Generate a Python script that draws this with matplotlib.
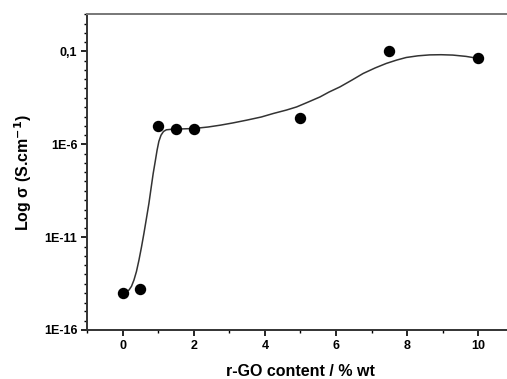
import numpy as np
import matplotlib.pyplot as plt
from matplotlib.ticker import FixedLocator, FixedFormatter, LogLocator, NullFormatter, MultipleLocator

plt.rcParams['font.family'] = ['Liberation Sans', 'DejaVu Sans']
plt.rcParams['font.weight'] = 'bold'

# measured points (r-GO wt %, log10 conductivity)
rgo = [0, 0.5, 1, 1.5, 2, 5, 7.5, 10]
log_sigma = [-14.0, -13.8, -5.03, -5.18, -5.18, -4.6, -1.0, -1.39]

# fitted curve
curve_x = [0.0, 0.1, 0.18, 0.25, 0.32, 0.39, 0.46, 0.53, 0.60, 0.67, 0.74, 0.80, 0.86, 0.92,
           0.97, 1.02, 1.08, 1.15, 1.23, 1.39, 1.7, 2.0, 2.4, 2.75, 3.1, 3.49, 3.9, 4.24,
           4.6, 4.89, 5.2, 5.55, 5.8, 6.11, 6.45, 6.76, 7.1, 7.41, 7.7, 7.97, 8.3, 8.63,
           8.95, 9.28, 9.65, 10.0]
curve_log = [-14.0, -13.95, -13.85, -13.65, -13.31, -12.85, -12.24, -11.55, -10.80, -10.0,
             -9.19, -8.38, -7.58, -6.90, -6.32, -5.85, -5.52, -5.32, -5.23, -5.20, -5.18,
             -5.16, -5.08, -4.98, -4.86, -4.71, -4.54, -4.35, -4.17, -4.0, -3.75, -3.46,
             -3.20, -2.92, -2.55, -2.20, -1.90, -1.66, -1.48, -1.34, -1.25, -1.20, -1.19,
             -1.21, -1.28, -1.39]

ytick_vals = [1e-16, 1e-11, 1e-6, 1e-1]
ytick_labels = ['1E-16', '1E-11', '1E-6', '0,1']

fig = plt.figure(figsize=(5.07, 3.79), dpi=100)
ax = fig.add_axes([87 / 507, 49 / 379, 427 / 507, 316 / 379])

ax.plot(curve_x, 10.0 ** np.array(curve_log), color='#333333', lw=1.1)
ax.plot(rgo, 10.0 ** np.array(log_sigma), 'o', color='black', ms=7.2)

ax.set_yscale('log')
ax.set_ylim(1e-16, 10)
ax.set_xlim(-1, 11)

ax.yaxis.set_major_locator(FixedLocator(ytick_vals))
ax.yaxis.set_major_formatter(FixedFormatter(ytick_labels))
ax.yaxis.set_minor_locator(LogLocator(base=10, subs=(1.0, 3.0), numticks=40))
ax.yaxis.set_minor_formatter(NullFormatter())

ax.xaxis.set_major_locator(MultipleLocator(2))
ax.xaxis.set_minor_locator(MultipleLocator(1))

ax.tick_params(which='major', direction='out', length=4, width=1.2, labelsize=9, pad=3)
ax.tick_params(which='minor', direction='out', length=2.5, width=1.0)

for side in ['left', 'bottom']:
    ax.spines[side].set_linewidth(1.4)
    ax.spines[side].set_color('#333333')
ax.spines['top'].set_linewidth(1.4)
ax.spines['top'].set_color('#777777')
ax.spines['right'].set_visible(False)

ax.set_xlabel('r-GO content / % wt', fontsize=11.5, fontweight='bold', labelpad=9)
ax.set_ylabel('Log \u03c3 (S.cm$^{\\mathbf{-1}}$)', fontsize=11.5, fontweight='bold', labelpad=7)

fig.savefig('out.png', dpi=100)
